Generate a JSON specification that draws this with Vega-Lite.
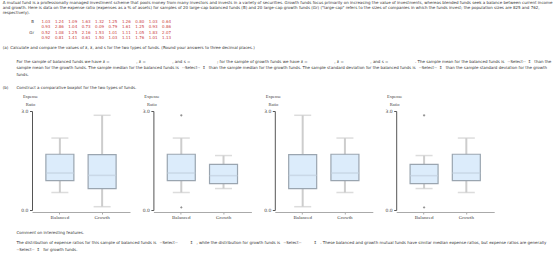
{
  "$schema": "https://vega.github.io/schema/vega-lite/v6.json",
  "padding": 0,
  "background": "white",
  "config": {
    "view": {"stroke": null},
    "font": "DejaVu Sans",
    "text": {"font": "DejaVu Sans", "fontSize": 4, "color": "#333"}
  },
  "datasets": {
    "prose_top": [
      {"line": 0, "indent": 0, "text": "A mutual fund is a professionally managed investment scheme that pools money from many investors and invests in a variety of securities. Growth funds focus primarily on increasing the value of investments, whereas blended funds seek a balance between current income"},
      {"line": 1, "indent": 0, "text": "and growth. Here is data on the expense ratio (expenses as a % of assets) for samples of 20 large-cap balanced funds (B) and 20 large-cap growth funds (Gr) (\"large-cap\" refers to the sizes of companies in which the funds invest; the population sizes are 825 and 762,"},
      {"line": 2, "indent": 0, "text": "respectively)."},
      {"line": 9, "indent": 0, "text": "(a)\u2002Calculate and compare the values of x\u0304, x\u0303, and s for the two types of funds. (Round your answers to three decimal places.)"},
      {"line": 11.8, "indent": 1, "text": "For the sample of balanced funds we have x\u0304 = \u2002\u2002\u2002\u2002\u2002\u2002\u2002\u2002\u2002\u2002\u2002\u2002 , x\u0303 = \u2002\u2002\u2002\u2002\u2002\u2002\u2002\u2002\u2002\u2002\u2002\u2002 , and s = \u2002\u2002\u2002\u2002\u2002\u2002\u2002\u2002\u2002\u2002\u2002\u2002 ; for the sample of growth funds we have x\u0304 = \u2002\u2002\u2002\u2002\u2002\u2002\u2002\u2002\u2002\u2002\u2002\u2002 , x\u0303 = \u2002\u2002\u2002\u2002\u2002\u2002\u2002\u2002\u2002\u2002\u2002\u2002 , and s = \u2002\u2002\u2002\u2002\u2002\u2002\u2002\u2002\u2002\u2002\u2002\u2002 . The sample mean for the balanced funds is \u2002--Select--\u2002\u21d5\u2002 than the"},
      {"line": 13, "indent": 1, "text": "sample mean for the growth funds. The sample median for the balanced funds is \u2002--Select--\u2002\u21d5\u2002 than the sample median for the growth funds. The sample standard deviation for the balanced funds is \u2002--Select--\u2002\u21d5\u2002 than the sample standard deviation for the growth"},
      {"line": 14.3, "indent": 1, "text": "funds."},
      {"line": 16.9, "indent": 0, "text": "(b)\u2002\u2002\u2002\u2002Construct a comparative boxplot for the two types of funds."}
    ],
    "fund_labels": [
      {"fund": "B", "line": 3.7, "column": 0},
      {"fund": "Gr", "line": 5.9, "column": 0}
    ],
    "expense": [
      {"fund": "B", "line": 3.7, "column": 1, "ratio": 1.03},
      {"fund": "B", "line": 3.7, "column": 2, "ratio": 1.24},
      {"fund": "B", "line": 3.7, "column": 3, "ratio": 1.09},
      {"fund": "B", "line": 3.7, "column": 4, "ratio": 1.63},
      {"fund": "B", "line": 3.7, "column": 5, "ratio": 1.32},
      {"fund": "B", "line": 3.7, "column": 6, "ratio": 1.25},
      {"fund": "B", "line": 3.7, "column": 7, "ratio": 1.26},
      {"fund": "B", "line": 3.7, "column": 8, "ratio": 0.80},
      {"fund": "B", "line": 3.7, "column": 9, "ratio": 1.03},
      {"fund": "B", "line": 3.7, "column": 10, "ratio": 0.64},
      {"fund": "B", "line": 4.8, "column": 1, "ratio": 0.93},
      {"fund": "B", "line": 4.8, "column": 2, "ratio": 2.86},
      {"fund": "B", "line": 4.8, "column": 3, "ratio": 1.04},
      {"fund": "B", "line": 4.8, "column": 4, "ratio": 0.73},
      {"fund": "B", "line": 4.8, "column": 5, "ratio": 0.09},
      {"fund": "B", "line": 4.8, "column": 6, "ratio": 0.79},
      {"fund": "B", "line": 4.8, "column": 7, "ratio": 1.61},
      {"fund": "B", "line": 4.8, "column": 8, "ratio": 1.25},
      {"fund": "B", "line": 4.8, "column": 9, "ratio": 0.93},
      {"fund": "B", "line": 4.8, "column": 10, "ratio": 0.86},
      {"fund": "Gr", "line": 5.9, "column": 1, "ratio": 0.52},
      {"fund": "Gr", "line": 5.9, "column": 2, "ratio": 1.08},
      {"fund": "Gr", "line": 5.9, "column": 3, "ratio": 1.25},
      {"fund": "Gr", "line": 5.9, "column": 4, "ratio": 2.16},
      {"fund": "Gr", "line": 5.9, "column": 5, "ratio": 1.53},
      {"fund": "Gr", "line": 5.9, "column": 6, "ratio": 1.01},
      {"fund": "Gr", "line": 5.9, "column": 7, "ratio": 1.11},
      {"fund": "Gr", "line": 5.9, "column": 8, "ratio": 1.05},
      {"fund": "Gr", "line": 5.9, "column": 9, "ratio": 1.83},
      {"fund": "Gr", "line": 5.9, "column": 10, "ratio": 2.07},
      {"fund": "Gr", "line": 7.0, "column": 1, "ratio": 0.92},
      {"fund": "Gr", "line": 7.0, "column": 2, "ratio": 0.81},
      {"fund": "Gr", "line": 7.0, "column": 3, "ratio": 1.41},
      {"fund": "Gr", "line": 7.0, "column": 4, "ratio": 0.61},
      {"fund": "Gr", "line": 7.0, "column": 5, "ratio": 1.50},
      {"fund": "Gr", "line": 7.0, "column": 6, "ratio": 1.03},
      {"fund": "Gr", "line": 7.0, "column": 7, "ratio": 1.11},
      {"fund": "Gr", "line": 7.0, "column": 8, "ratio": 1.76},
      {"fund": "Gr", "line": 7.0, "column": 9, "ratio": 1.01},
      {"fund": "Gr", "line": 7.0, "column": 10, "ratio": 1.13}
    ],
    "panels": [
      {"panel": 1, "fund": "Balanced", "lower": 0.53, "q1": 0.89, "median": 1.12, "q3": 1.69, "upper": 2.18},
      {"panel": 1, "fund": "Growth", "lower": 0.10, "q1": 0.65, "median": 1.05, "q3": 1.68, "upper": 2.87},
      {"panel": 2, "fund": "Balanced", "lower": 0.53, "q1": 0.89, "median": 1.12, "q3": 1.69, "upper": 2.18},
      {"panel": 2, "fund": "Growth", "lower": 0.65, "q1": 0.80, "median": 1.04, "q3": 1.38, "upper": 1.65},
      {"panel": 3, "fund": "Balanced", "lower": 0.10, "q1": 0.65, "median": 1.05, "q3": 1.68, "upper": 2.87},
      {"panel": 3, "fund": "Growth", "lower": 0.53, "q1": 0.89, "median": 1.12, "q3": 1.69, "upper": 2.18},
      {"panel": 4, "fund": "Balanced", "lower": 0.65, "q1": 0.80, "median": 1.04, "q3": 1.38, "upper": 1.65},
      {"panel": 4, "fund": "Growth", "lower": 0.53, "q1": 0.89, "median": 1.12, "q3": 1.69, "upper": 2.18},
      {"panel": 2, "fund": "Balanced", "outlier": 2.87},
      {"panel": 2, "fund": "Balanced", "outlier": 0.08},
      {"panel": 4, "fund": "Balanced", "outlier": 2.87},
      {"panel": 4, "fund": "Balanced", "outlier": 0.08}
    ],
    "prose_bottom": [
      {"line": 0, "indent": 1, "text": "Comment on interesting features."},
      {"line": 2.1, "indent": 1, "text": "The distribution of expense ratios for this sample of balanced funds is \u2002--Select--\u2002\u2002\u2002\u2002\u2002\u2002\u21d5\u2002 , while the distribution for growth funds is \u2002--Select--\u2002\u2002\u2002\u2002\u2002\u2002\u21d5\u2002 . These balanced and growth mutual funds have similar median expense ratios, but expense ratios are generally"},
      {"line": 3.5, "indent": 1, "text": "\u2002--Select--\u2002\u21d5\u2002 for growth funds."}
    ]
  },
  "spacing": 0,
  "vconcat": [
    {
      "width": 560,
      "height": 93,
      "resolve": {"scale": {"x": "independent"}},
      "layer": [
        {
          "data": {"name": "prose_top"},
          "mark": {"type": "text", "align": "left", "baseline": "middle"},
          "encoding": {
            "x": {"field": "indent", "type": "quantitative", "scale": {"domain": [-0.2, 40.8], "nice": false, "zero": false}, "axis": null},
            "y": {"field": "line", "type": "quantitative", "scale": {"domain": [-0.6, 18], "nice": false, "zero": false, "reverse": true}, "axis": null},
            "text": {"field": "text"}
          }
        },
        {
          "data": {"name": "fund_labels"},
          "mark": {"type": "text", "align": "right", "baseline": "middle", "dx": 6},
          "encoding": {
            "x": {"field": "column", "type": "quantitative", "scale": {"domain": [-2.097, 39.69], "nice": false, "zero": false}, "axis": null},
            "y": {"field": "line", "type": "quantitative", "scale": {"domain": [-0.6, 18], "nice": false, "zero": false, "reverse": true}, "axis": null},
            "text": {"field": "fund"}
          }
        },
        {
          "data": {"name": "expense"},
          "mark": {"type": "text", "align": "left", "baseline": "middle", "color": "#cc3b3b"},
          "encoding": {
            "x": {"field": "column", "type": "quantitative", "scale": {"domain": [-2.097, 39.69], "nice": false, "zero": false}, "axis": null},
            "y": {"field": "line", "type": "quantitative", "scale": {"domain": [-0.6, 18], "nice": false, "zero": false, "reverse": true}, "axis": null},
            "text": {"field": "ratio", "type": "quantitative", "format": ".2f"}
          }
        }
      ]
    },
    {
      "spacing": 0,
      "hconcat": [
        {
          "width": 20,
          "height": 1,
          "data": {"values": [{}]},
          "mark": {"type": "text"},
          "encoding": {"text": {"value": ""}}
        },
        {
          "data": {"name": "panels"},
          "facet": {"column": {"field": "panel", "type": "ordinal", "header": null}},
          "spacing": 11.4,
          "resolve": {"axis": {"y": "independent"}},
          "spec": {
            "width": 98,
            "height": 99,
            "layer": [
              {
                "transform": [{"filter": "isValid(datum.q1)"}],
                "mark": {"type": "rule", "color": "#cdcdcd", "strokeWidth": 2},
                "encoding": {
                  "x": {
                    "field": "fund", "type": "nominal", "title": null,
                    "scale": {"domain": ["Balanced", "Growth"], "paddingInner": 0, "paddingOuter": 0.16},
                    "axis": {"labelAngle": 0, "labelFont": "Liberation Serif", "labelFontSize": 5, "labelColor": "#444", "labelPadding": 0.5, "tickSize": 2, "tickColor": "#aaa", "domainColor": "#aaa"}
                  },
                  "y": {
                    "field": "lower", "type": "quantitative", "title": ["Expense", "Ratio"],
                    "scale": {"domain": [0, 3], "nice": false, "zero": false},
                    "axis": {
                      "values": [0, 0.5, 1, 1.5, 2, 2.5, 3],
                      "format": ".1f",
                      "labelOverlap": false,
                      "labelFontSize": 4.5,
                      "labelColor": "#444",
                      "labelPadding": 1.5,
                      "tickSize": 2.5,
                      "tickColor": "#555",
                      "domainColor": "#555",
                      "grid": false,
                      "titleAngle": 0,
                      "titleAlign": "center",
                      "titleBaseline": "bottom",
                      "titleX": -2,
                      "titleY": -13,
                      "titleFont": "Liberation Serif",
                      "titleFontSize": 4.5,
                      "titleFontWeight": "normal",
                      "titleLineHeight": 8.5,
                      "titleColor": "#444"
                    }
                  },
                  "y2": {"field": "upper"}
                }
              },
              {
                "transform": [
                  {"filter": "isValid(datum.q1)"},
                  {"fold": ["lower", "upper"], "as": ["end", "value"]}
                ],
                "mark": {"type": "tick", "color": "#cdcdcd", "size": 17, "thickness": 1.5},
                "encoding": {
                  "x": {"field": "fund", "type": "nominal", "title": null},
                  "y": {"field": "value", "type": "quantitative", "title": ["Expense", "Ratio"], "scale": {"domain": [0, 3], "nice": false, "zero": false}}
                }
              },
              {
                "transform": [{"filter": "isValid(datum.q1)"}],
                "mark": {"type": "bar", "size": 28, "fill": "#dcecfb", "stroke": "#9aa5b0", "strokeWidth": 1.2},
                "encoding": {
                  "x": {"field": "fund", "type": "nominal", "title": null},
                  "y": {"field": "q1", "type": "quantitative", "title": ["Expense", "Ratio"], "scale": {"domain": [0, 3], "nice": false, "zero": false}},
                  "y2": {"field": "q3"}
                }
              },
              {
                "transform": [{"filter": "isValid(datum.q1)"}],
                "mark": {"type": "tick", "color": "#c2d0de", "size": 28, "thickness": 1.5},
                "encoding": {
                  "x": {"field": "fund", "type": "nominal", "title": null},
                  "y": {"field": "median", "type": "quantitative", "title": ["Expense", "Ratio"], "scale": {"domain": [0, 3], "nice": false, "zero": false}}
                }
              },
              {
                "transform": [{"filter": "isValid(datum.outlier)"}],
                "mark": {"type": "point", "shape": "cross", "size": 5, "filled": true, "color": "#555"},
                "encoding": {
                  "x": {"field": "fund", "type": "nominal", "title": null},
                  "y": {"field": "outlier", "type": "quantitative", "title": ["Expense", "Ratio"], "scale": {"domain": [0, 3], "nice": false, "zero": false}}
                }
              }
            ]
          }
        }
      ]
    },
    {
      "width": 560,
      "height": 37,
      "data": {"name": "prose_bottom"},
      "mark": {"type": "text", "align": "left", "baseline": "middle"},
      "encoding": {
        "x": {"field": "indent", "type": "quantitative", "scale": {"domain": [-0.2, 40.8], "nice": false, "zero": false}, "axis": null},
        "y": {"field": "line", "type": "quantitative", "scale": {"domain": [-2.5, 4.9], "nice": false, "zero": false, "reverse": true}, "axis": null},
        "text": {"field": "text"}
      }
    }
  ]
}
